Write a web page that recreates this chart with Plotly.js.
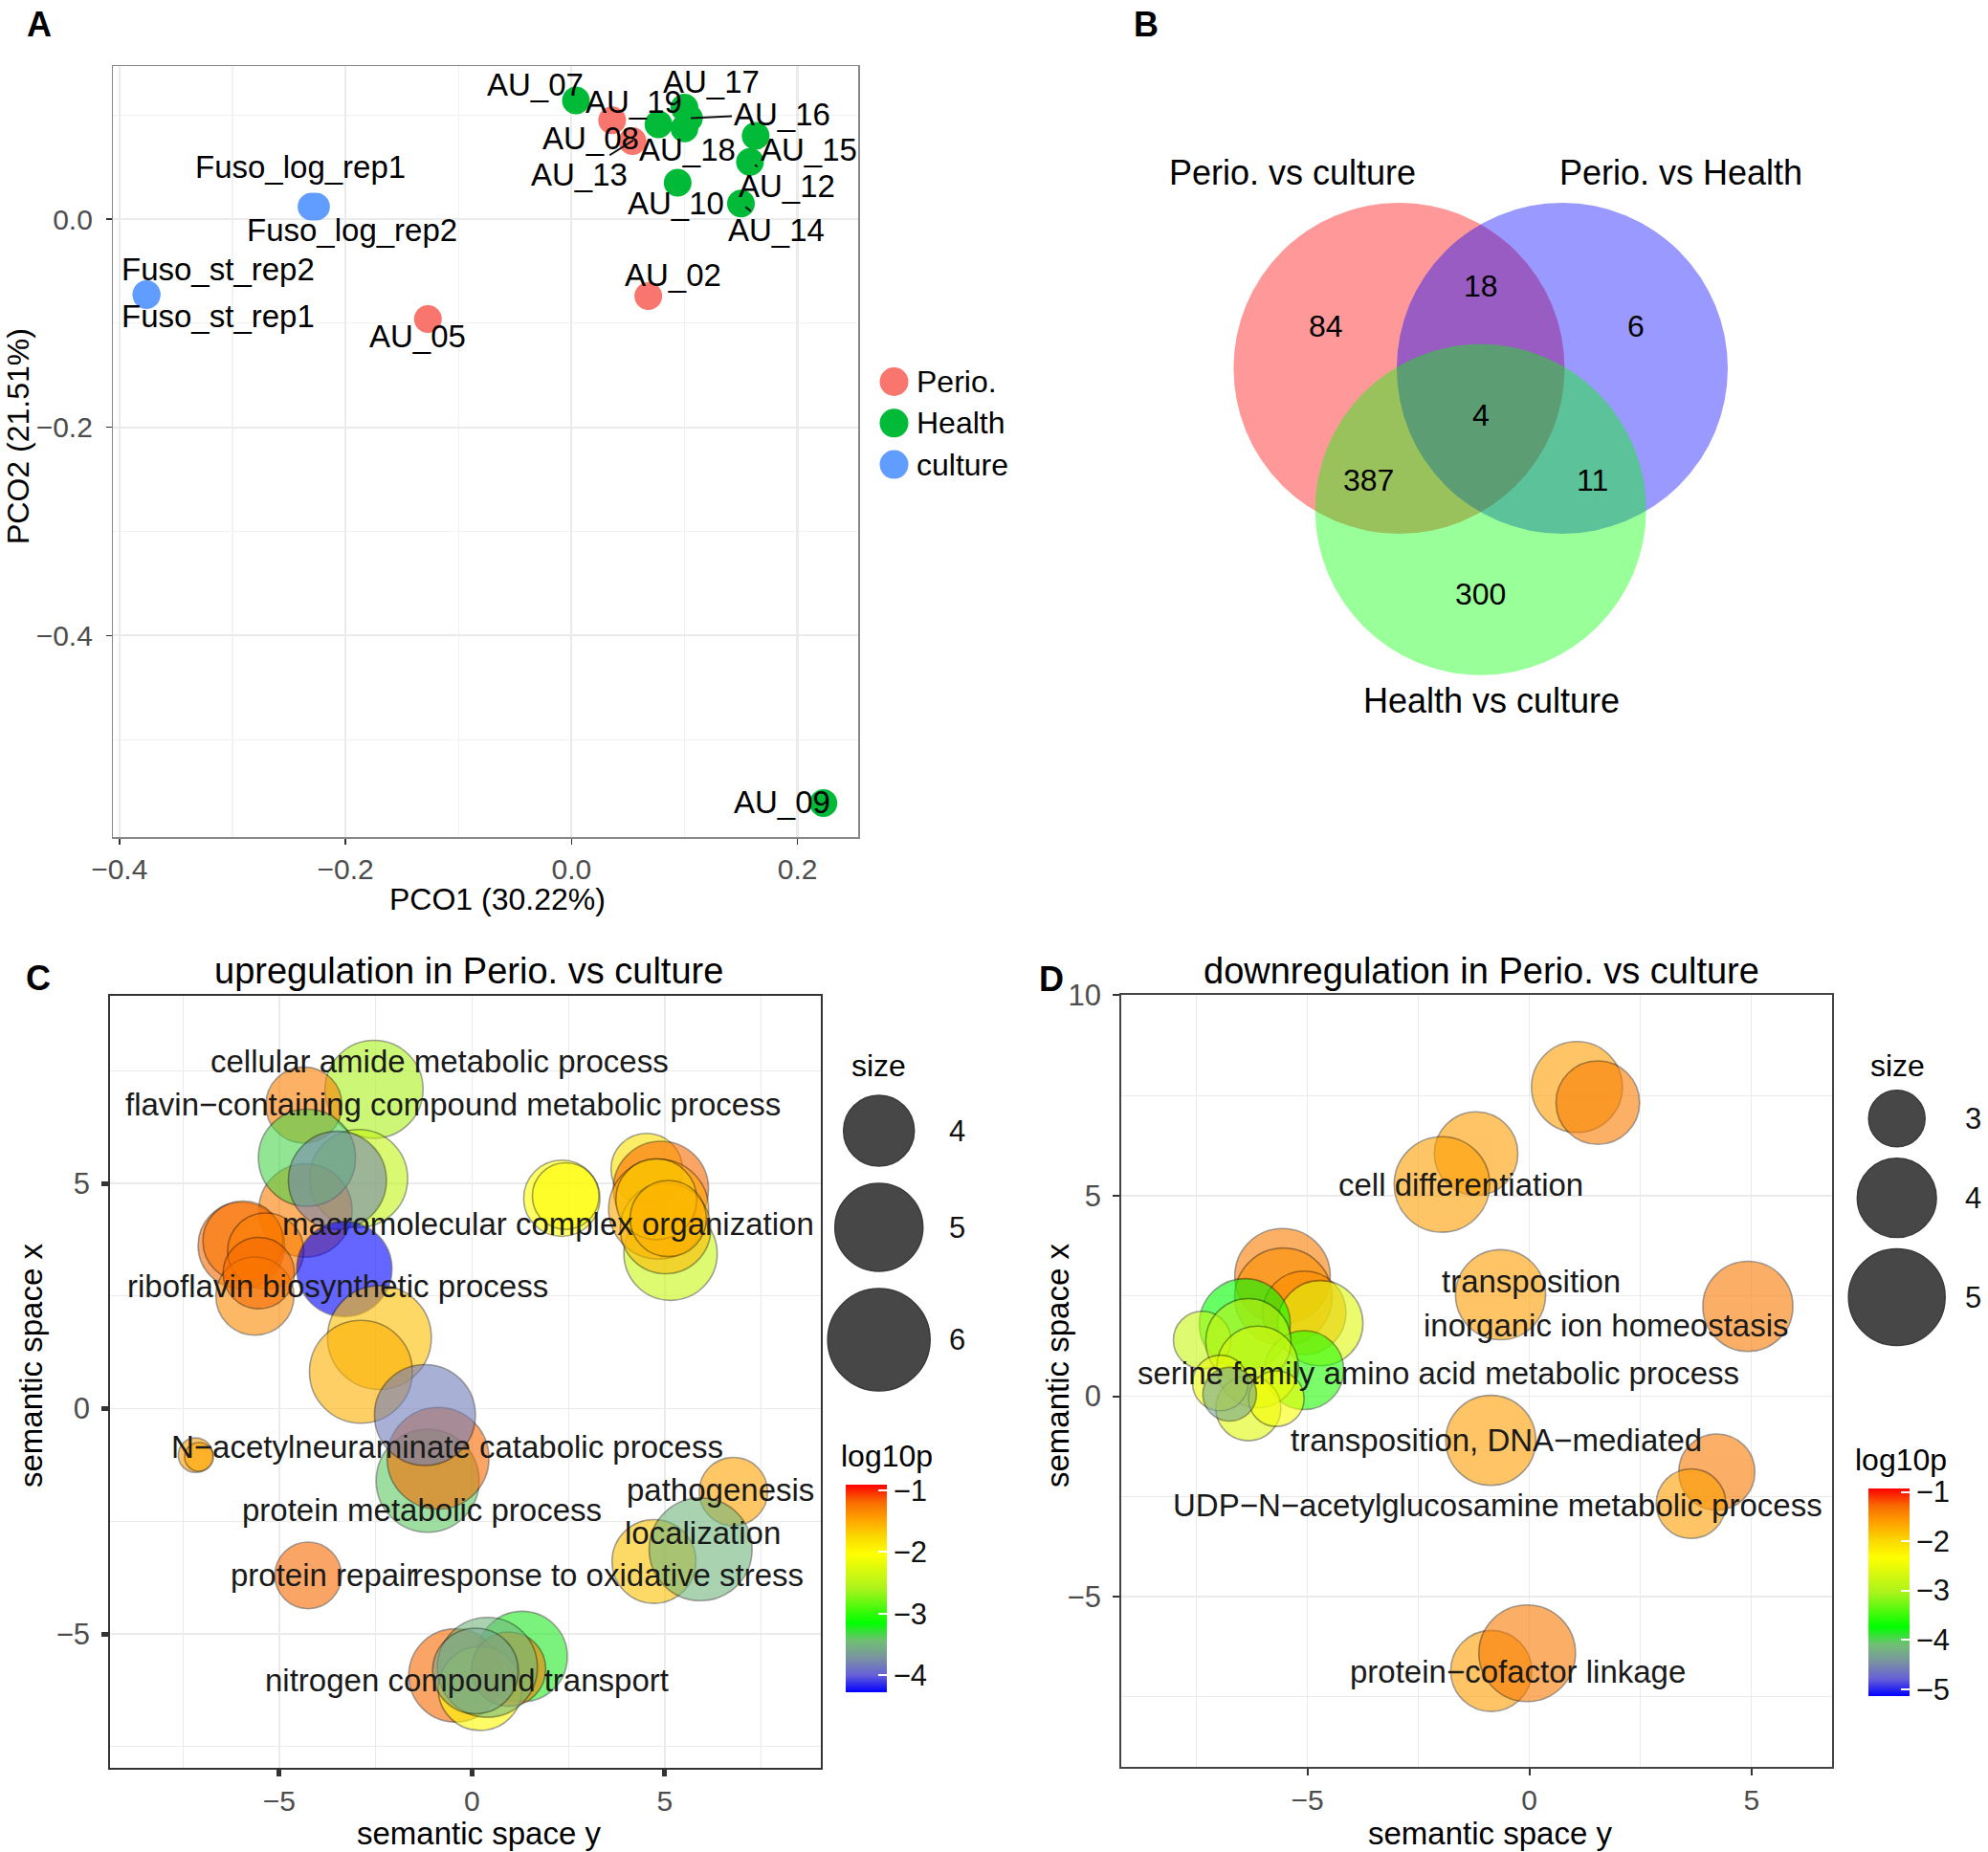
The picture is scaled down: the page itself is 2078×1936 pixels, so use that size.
<!DOCTYPE html>
<html><head><meta charset="utf-8">
<script src="https://cdn.plot.ly/plotly-3.0.1.min.js"></script>
<style>html,body{margin:0;padding:0;background:#fff}</style>
</head><body><div id="chart" style="width:2078px;height:1936px"></div>
<script>
// ================= DATA =================
// Panel A: PCoA
const groupNames = ['Perio.', 'Health', 'culture'];
const pcoSamples = ['AU_19','AU_08','AU_02','AU_05','AU_07','AU_13','AU_17','AU_16','AU_18','AU_15','AU_12','AU_10','AU_14','AU_09','Fuso_log_rep1','Fuso_log_rep2','Fuso_st_rep2','Fuso_st_rep1'];
const pcoGroups  = ['Perio.','Perio.','Perio.','Perio.','Health','Health','Health','Health','Health','Health','Health','Health','Health','Health','culture','culture','culture','culture'];
const pco1 = [0.036, 0.054, 0.068, -0.127, 0.004, 0.077, 0.100, 0.104, 0.100, 0.163, 0.158, 0.094, 0.150, 0.223, -0.230, -0.226, -0.376, -0.376];
const pco2 = [0.095, 0.075, -0.074, -0.096, 0.114, 0.091, 0.107, 0.097, 0.087, 0.080, 0.055, 0.035, 0.015, -0.561, 0.012, 0.012, -0.072, -0.073];

// Panel B: Venn
const vennSets = ['Perio. vs culture', 'Perio. vs Health', 'Health vs culture'];
const vennRegions = [[0],[1],[2],[0,1],[0,2],[1,2],[0,1,2]];
const vennCounts  = [84, 6, 300, 18, 387, 11, 4];

// Panel C: upregulation (REVIGO)
const upX    = [-2.54,-2.94,-4.36,-4.32,-4.28,-3.49,-5.98,-5.94,-5.35,-5.63,-5.53,-3.31,-2.40,-2.88,-1.15,-0.88,-1.22,-7.17,-7.08,-4.25,6.78,4.72,5.93,1.30,-0.43,0.21,0.95,0.40,0.09,2.33,2.43,4.53,5.15,4.90,4.84,5.02,4.78,5.09];
const upY    = [7.09,5.11,6.74,4.40,5.57,5.07,3.62,3.72,3.50,2.50,3.01,3.10,1.58,0.82,-1.60,-1.10,-0.14,-1.03,-1.07,-3.70,-1.84,-3.39,-3.12,-5.50,-5.92,-6.21,-5.78,-5.74,-5.82,4.67,4.72,5.32,3.44,4.88,4.43,4.00,4.65,4.22];
const upSize = [5.68,5.68,4.29,5.35,5.62,5.68,4.91,4.51,4.29,4.40,4.03,5.48,6.11,6.04,6.04,5.96,5.89,2.60,2.47,3.79,3.88,4.74,6.04,5.16,5.35,4.74,4.18,5.82,4.85,4.29,3.79,4.03,5.35,5.48,5.82,5.16,4.56,4.29];
const upLogP = [-2.6,-2.45,-1.3,-1.3,-3.35,-3.8,-1.2,-1.25,-1.3,-1.35,-1.2,-4.28,-1.63,-1.55,-3.4,-1.2,-3.85,-1.45,-1.5,-1.2,-1.48,-1.65,-3.5,-3.25,-1.2,-2.0,-1.3,-3.5,-3.6,-2.04,-2.0,-1.83,-2.4,-1.2,-1.5,-1.6,-1.7,-1.55];
const upTerms = ['cellular amide metabolic process','flavin\u2212containing compound metabolic process','macromolecular complex organization','riboflavin biosynthetic process','N\u2212acetylneuraminate catabolic process','protein metabolic process','pathogenesis','localization','protein repair','response to oxidative stress','nitrogen compound transport'];
const upTermX = [-0.84,-0.49,1.97,-3.49,-0.63,-1.29,6.44,5.98,-1.42,-1.56,-0.14];
const upTermY = [7.71,6.75,4.10,2.72,-0.85,-2.25,-1.81,-2.75,-3.69,-3.69,-6.03];

// Panel D: downregulation (REVIGO)
const dnX    = [1.07,1.54,-1.20,-1.97,-5.56,-5.54,-5.07,-4.71,-6.41,-7.37,-5.07,-6.33,-6.12,-6.33,-6.96,-5.70,-6.75,-0.65,4.92,-0.87,4.22,3.64,-0.86,-0.05];
const dnY    = [7.71,7.32,6.05,5.28,2.99,2.48,2.08,1.82,1.80,1.40,0.65,1.37,0.73,-0.30,0.33,-0.06,0.05,2.53,2.24,-1.10,-1.89,-2.68,-6.85,-6.41];
const dnSize = [4.65,4.23,4.23,4.93,4.93,5.05,4.23,4.33,4.65,3.04,3.99,4.33,4.13,3.34,2.97,2.97,2.90,4.60,4.60,4.60,3.85,3.54,4.10,5.00];
const dnLogP = [-1.6,-1.4,-1.6,-1.6,-1.4,-1.5,-1.5,-2.6,-3.74,-2.8,-3.6,-2.9,-2.7,-2.6,-2.5,-2.4,-4.3,-1.6,-1.38,-1.6,-1.38,-1.6,-1.6,-1.38];
const dnTerms = ['cell differentiation','transposition','inorganic ion homeostasis','serine family amino acid metabolic process','transposition, DNA\u2212mediated','UDP\u2212N\u2212acetylglucosamine metabolic process','protein\u2212cofactor linkage'];
const dnTermX = [-1.55,0.03,1.74,-2.05,-0.74,-0.72,-0.26];
const dnTermY = [5.28,2.86,1.76,0.57,-1.10,-2.71,-6.87];

// legend values
const upSizeBreaks = [4, 5, 6];
const dnSizeBreaks = [3, 4, 5];
const upTicks = [-1, -2, -3, -4];
const dnTicks = [-1, -2, -3, -4, -5];

// ================= LAYOUT / STYLE =================
const W = 2078, H = 1936;
const FONT = 'Liberation Sans, Arial, Helvetica, sans-serif';
const groupColors = {'Perio.': '#F8766D', 'Health': '#00BA38', 'culture': '#619CFF'};
const px2x = (a, b) => [a / W, b / W];
const px2y = (top, bottom) => [1 - bottom / H, 1 - top / H];
const LABEL_SIZE = 33;

// label placement for panel A (text centres in data units) and leader-line standoffs
const pcoLabelPos = {
  'AU_19':[0.0555,0.113],'AU_08':[0.017,0.078],'AU_02':[0.0895,-0.054],'AU_05':[-0.136,-0.113],
  'AU_07':[-0.0316,0.129],'AU_13':[0.007,0.043],'AU_17':[0.124,0.132],'AU_16':[0.186,0.101],
  'AU_18':[0.103,0.067],'AU_15':[0.210,0.067],'AU_12':[0.191,0.032],'AU_10':[0.0925,0.0153],
  'AU_14':[0.181,-0.0107],'AU_09':[0.186,-0.560],'Fuso_log_rep1':[-0.240,0.050],
  'Fuso_log_rep2':[-0.194,-0.0107],'Fuso_st_rep2':[-0.313,-0.0484],'Fuso_st_rep1':[-0.313,-0.0934]
};
const pcoLeader = {'AU_13': 31, 'AU_16': 2, 'AU_12': 6, 'AU_14': 6};
const upTermAnchor = {'protein repair': 'right', 'response to oxidative stress': 'left'};

// REVIGO colour scale (blue-green-yellow-red, Lab-like interpolation)
const revigoScale = [[0,'#0000FF'],[0.083,'#6760D8'],[0.167,'#7A94A0'],[0.25,'#6FC072'],[0.333,'#00FF00'],
  [0.5,'#ABF31C'],[0.667,'#FFFF00'],[0.75,'#FAD800'],[0.833,'#FFA300'],[0.917,'#F86A00'],[1,'#FF0000']];

// ggplot-like area scale for size
function makeSizeScale(v0, d0, v1, d1) {
  const a0 = d0 * d0, a1 = d1 * d1;
  return v => Math.sqrt(Math.max(a0 + (v - v0) / (v1 - v0) * (a1 - a0), 100));
}
const sizeUp = makeSizeScale(4, 74, 6, 107);
const sizeDn = makeSizeScale(3, 59, 5, 101);

const traces = [];
const annotations = [];
const shapes = [];

// ---------- Panel A ----------
groupNames.forEach(g => {
  const idx = pcoGroups.map((v, i) => v === g ? i : -1).filter(i => i >= 0);
  traces.push({
    type: 'scatter', mode: 'markers', xaxis: 'x', yaxis: 'y',
    x: idx.map(i => pco1[i]), y: idx.map(i => pco2[i]), text: idx.map(i => pcoSamples[i]),
    marker: {size: 29, color: groupColors[g], opacity: 1, line: {width: 0}},
    showlegend: false, hoverinfo: 'text'
  });
});
pcoSamples.forEach((s, i) => {
  const p = pcoLabelPos[s];
  const a = {text: s, font: {family: FONT, size: LABEL_SIZE, color: '#000'}, xref: 'x', yref: 'y'};
  if (pcoLeader[s] !== undefined) {
    Object.assign(a, {x: pco1[i], y: pco2[i], ax: p[0], ay: p[1], axref: 'x', ayref: 'y',
      showarrow: true, arrowhead: 0, arrowwidth: 2, arrowcolor: '#111', standoff: pcoLeader[s]});
  } else {
    Object.assign(a, {x: p[0], y: p[1], showarrow: false});
  }
  annotations.push(a);
});
// Panel A legend (page pixel axis)
const legA = {x: 934.5, y0: 399, dy: 43.3, tx: 956};
traces.push({
  type: 'scatter', mode: 'markers', xaxis: 'x5', yaxis: 'y5',
  x: groupNames.map(() => legA.x), y: groupNames.map((g, i) => legA.y0 + i * legA.dy),
  marker: {size: 30, opacity: 1, color: groupNames.map(g => groupColors[g])}, showlegend: false, hoverinfo: 'skip'
});
groupNames.forEach((g, i) => annotations.push({
  text: g, x: legA.tx, y: legA.y0 + i * legA.dy, xref: 'x5', yref: 'y5', xanchor: 'left', yanchor: 'middle',
  showarrow: false, font: {family: FONT, size: 32, color: '#000'}
}));
annotations.push({text: 'PCO1 (30.22%)', x: 520, y: 940, xref: 'x5', yref: 'y5', showarrow: false, borderpad: 0,
  font: {family: FONT, size: 32, color: '#000'}});
annotations.push({text: 'PCO2 (21.51%)', x: 19, y: 456, xref: 'x5', yref: 'y5', showarrow: false, textangle: -90,
  font: {family: FONT, size: 32, color: '#000'}});

// ---------- Panel B: Venn ----------
const venn = {ox: 1462.4, oy: 385, side: 170.6, r: 173};
const vc = [
  [venn.ox, venn.oy],
  [venn.ox + venn.side, venn.oy],
  [venn.ox + venn.side / 2, venn.oy + venn.side * Math.sqrt(3) / 2]
];
const vennFill = ['rgba(255,0,0,0.4)', 'rgba(0,0,255,0.4)', 'rgba(0,255,0,0.4)'];
vc.forEach((c, i) => shapes.push({type: 'circle', xref: 'x5', yref: 'y5',
  x0: c[0] - venn.r, x1: c[0] + venn.r, y0: c[1] - venn.r, y1: c[1] + venn.r,
  fillcolor: vennFill[i], line: {width: 0}, layer: 'above'}));
const vO = [(vc[0][0] + vc[1][0] + vc[2][0]) / 3, (vc[0][1] + vc[1][1] + vc[2][1]) / 3];
vennRegions.forEach((reg, k) => {
  const m = [reg.reduce((s, i) => s + vc[i][0], 0) / reg.length, reg.reduce((s, i) => s + vc[i][1], 0) / reg.length];
  const f = reg.length === 1 ? 1.9 : (reg.length === 2 ? 2.75 : 1);
  annotations.push({text: String(vennCounts[k]), x: vO[0] + f * (m[0] - vO[0]), y: vO[1] + f * (m[1] - vO[1]),
    xref: 'x5', yref: 'y5', showarrow: false, font: {family: FONT, size: 32, color: '#000'}});
});
const vennLabelOff = [[-111, -204.5], [123.5, -204.5], [11, 200]];
vennSets.forEach((s, i) => annotations.push({text: s, x: vc[i][0] + vennLabelOff[i][0], y: vc[i][1] + vennLabelOff[i][1],
  xref: 'x5', yref: 'y5', showarrow: false, font: {family: FONT, size: 36, color: '#000'}}));

// ---------- Panel C ----------
const upRange = [-4.28, -0.92];
traces.push({
  type: 'scatter', mode: 'markers', xaxis: 'x3', yaxis: 'y3', x: upX, y: upY,
  marker: {size: upSize.map(sizeUp), color: upLogP, colorscale: revigoScale, cmin: upRange[0], cmax: upRange[1],
    opacity: 0.6, line: {color: 'rgba(0,0,0,0.6)', width: 1.6}, showscale: true,
    colorbar: {x: 884 / W, xanchor: 'left', y: 1 - 1661 / H, yanchor: 'middle', len: 217, lenmode: 'pixels',
      thickness: 43, thicknessmode: 'pixels', outlinewidth: 0, borderwidth: 0, xpad: 0, ypad: 0,
      tickvals: upTicks, ticks: 'inside', ticklen: 9, tickwidth: 2, tickcolor: '#fff',
      tickfont: {family: FONT, size: 31, color: '#111'}}},
  showlegend: false, hoverinfo: 'skip'
});
upTerms.forEach((t, i) => annotations.push({text: t, x: upTermX[i], y: upTermY[i], xref: 'x3', yref: 'y3',
  xanchor: upTermAnchor[t] || 'center', borderpad: 0, showarrow: false,
  font: {family: FONT, size: LABEL_SIZE, color: '#1a1a1a'}}));

// ---------- Panel D ----------
const dnRange = [-5.14, -0.93];
traces.push({
  type: 'scatter', mode: 'markers', xaxis: 'x4', yaxis: 'y4', x: dnX, y: dnY,
  marker: {size: dnSize.map(sizeDn), color: dnLogP, colorscale: revigoScale, cmin: dnRange[0], cmax: dnRange[1],
    opacity: 0.6, line: {color: 'rgba(0,0,0,0.6)', width: 1.6}, showscale: true,
    colorbar: {x: 1952.7 / W, xanchor: 'left', y: 1 - 1664.4 / H, yanchor: 'middle', len: 217, lenmode: 'pixels',
      thickness: 43, thicknessmode: 'pixels', outlinewidth: 0, borderwidth: 0, xpad: 0, ypad: 0,
      tickvals: dnTicks, ticks: 'inside', ticklen: 9, tickwidth: 2, tickcolor: '#fff',
      tickfont: {family: FONT, size: 31, color: '#111'}}},
  showlegend: false, hoverinfo: 'skip'
});
dnTerms.forEach((t, i) => annotations.push({text: t, x: dnTermX[i], y: dnTermY[i], xref: 'x4', yref: 'y4',
  showarrow: false, font: {family: FONT, size: LABEL_SIZE, color: '#1a1a1a'}}));

// ---------- Size legends ----------
function sizeLegend(breaks, scale, cx, y0, gap, tx) {
  const ys = [];
  let y = y0;
  breaks.forEach((b, i) => {
    if (i > 0) y += (scale(breaks[i - 1]) + scale(b)) / 2 + gap;
    ys.push(y);
  });
  traces.push({type: 'scatter', mode: 'markers', xaxis: 'x5', yaxis: 'y5', x: breaks.map(() => cx), y: ys,
    marker: {size: breaks.map(scale), color: '#474747', opacity: 1, line: {color: '#3a3a3a', width: 1.5}},
    showlegend: false, hoverinfo: 'skip'});
  breaks.forEach((b, i) => annotations.push({text: String(b), x: tx, y: ys[i], xref: 'x5', yref: 'y5',
    xanchor: 'left', showarrow: false, font: {family: FONT, size: 31, color: '#111'}}));
}
sizeLegend(upSizeBreaks, sizeUp, 918.7, 1182, 18, 990);
sizeLegend(dnSizeBreaks, sizeDn, 1982.7, 1169.3, 12, 2052);
[['size', 918, 1114], ['size', 1983, 1114], ['log10p', 926.7, 1522], ['log10p', 1987, 1526]].forEach(t =>
  annotations.push({text: t[0], x: t[1], y: t[2], xref: 'x5', yref: 'y5', showarrow: false,
    font: {family: FONT, size: 32, color: '#000'}}));

// ---------- titles & panel letters ----------
[['upregulation in Perio. vs culture', 490, 1015], ['downregulation in Perio. vs culture', 1548, 1015]].forEach(t =>
  annotations.push({text: t[0], x: t[1], y: t[2], xref: 'x5', yref: 'y5', showarrow: false,
    font: {family: FONT, size: 38, color: '#000'}}));
[['semantic space y', 500, 1916, 0], ['semantic space y', 1557, 1916, 0],
 ['semantic space x', 32, 1428, -90], ['semantic space x', 1105, 1428, -90]].forEach(t =>
  annotations.push({text: t[0], x: t[1], y: t[2], xref: 'x5', yref: 'y5', showarrow: false, textangle: t[3],
    borderpad: 0, font: {family: FONT, size: 33, color: '#000'}}));
[['A', 41, 25], ['B', 1198, 25], ['C', 40, 1022], ['D', 1099, 1023]].forEach(t =>
  annotations.push({text: '<b>' + t[0] + '</b>', x: t[1], y: t[2], xref: 'x5', yref: 'y5', showarrow: false,
    font: {family: FONT, size: 36, color: '#000'}}));

// ---------- axes ----------
const gridA = {gridcolor: '#EBEBEB', gridwidth: 2.2};
const baseAxis = {zeroline: false, showline: true, mirror: true, ticks: 'outside', fixedrange: true};
const layout = {
  width: W, height: H, margin: {l: 0, r: 0, t: 0, b: 0},
  paper_bgcolor: '#fff', plot_bgcolor: 'rgba(0,0,0,0)', showlegend: false,
  font: {family: FONT},
  xaxis: Object.assign({}, baseAxis, gridA, {domain: px2x(118.4, 897), anchor: 'y', range: [-0.4054, 0.2537],
    dtick: 0.2, tick0: 0, tickformat: '.1f', linecolor: '#888', linewidth: 1.5, ticklen: 6, tickwidth: 1.5,
    tickcolor: '#333', tickfont: {family: FONT, size: 30, color: '#4D4D4D'}, ticklabelstandoff: 0,
    minor: {dtick: 0.1, tick0: 0, showgrid: true, gridcolor: '#F2F2F2', gridwidth: 1.2, ticks: ''}}),
  yaxis: Object.assign({}, baseAxis, gridA, {domain: px2y(69.3, 875.4), anchor: 'x', range: [-0.594, 0.1468],
    dtick: 0.2, tick0: 0, tickformat: '.1f', linecolor: '#888', linewidth: 1.5, ticklen: 6, tickwidth: 1.5,
    tickcolor: '#333', tickfont: {family: FONT, size: 30, color: '#4D4D4D'}, ticklabelstandoff: 8,
    minor: {dtick: 0.1, tick0: 0, showgrid: true, gridcolor: '#F2F2F2', gridwidth: 1.2, ticks: ''}}),
  xaxis3: Object.assign({}, baseAxis, {domain: px2x(115.3, 857.7), anchor: 'y3', range: [-9.38, 9.04],
    dtick: 5, tick0: 0, gridcolor: '#EBEBEB', gridwidth: 1.5, linecolor: '#333', linewidth: 2,
    ticklen: 7, tickwidth: 5, tickcolor: '#333', tickfont: {family: FONT, size: 30, color: '#4D4D4D'}, ticklabelstandoff: 0,
    minor: {dtick: 2.5, tick0: 0, showgrid: true, gridcolor: '#EBEBEB', gridwidth: 1, ticks: ''}}),
  yaxis3: Object.assign({}, baseAxis, {domain: px2y(1040.7, 1847.5), anchor: 'x3', range: [-7.96, 9.17],
    dtick: 5, tick0: 0, gridcolor: '#EBEBEB', gridwidth: 1.5, linecolor: '#333', linewidth: 2,
    ticklen: 7, tickwidth: 5, tickcolor: '#333', tickfont: {family: FONT, size: 31, color: '#4D4D4D'}, ticklabelstandoff: 6,
    minor: {dtick: 2.5, tick0: 0, showgrid: true, gridcolor: '#EBEBEB', gridwidth: 1, ticks: ''}}),
  xaxis4: Object.assign({}, baseAxis, {domain: px2x(1172.1, 1915.2), anchor: 'y4', range: [-9.19, 6.82],
    dtick: 5, tick0: 0, gridcolor: '#EBEBEB', gridwidth: 1.5, linecolor: '#444', linewidth: 2,
    ticklen: 7, tickwidth: 2, tickcolor: '#333', tickfont: {family: FONT, size: 30, color: '#4D4D4D'}, ticklabelstandoff: 0,
    minor: {dtick: 2.5, tick0: 0, showgrid: true, gridcolor: '#EBEBEB', gridwidth: 1, ticks: ''}}),
  yaxis4: Object.assign({}, baseAxis, {domain: px2y(1040.3, 1846.5), anchor: 'x4', range: [-9.23, 10.0],
    dtick: 5, tick0: 0, gridcolor: '#EBEBEB', gridwidth: 1.5, linecolor: '#444', linewidth: 2,
    ticklen: 7, tickwidth: 2, tickcolor: '#333', tickfont: {family: FONT, size: 31, color: '#4D4D4D'}, ticklabelstandoff: 6,
    minor: {dtick: 2.5, tick0: 0, showgrid: true, gridcolor: '#EBEBEB', gridwidth: 1, ticks: ''}}),
  xaxis5: {domain: [0, 1], anchor: 'y5', range: [0, W], visible: false, fixedrange: true},
  yaxis5: {domain: [0, 1], anchor: 'x5', range: [H, 0], visible: false, fixedrange: true},
  annotations: annotations,
  shapes: shapes
};
Plotly.newPlot('chart', traces, layout, {staticPlot: true, displayModeBar: false});
</script></body></html>
